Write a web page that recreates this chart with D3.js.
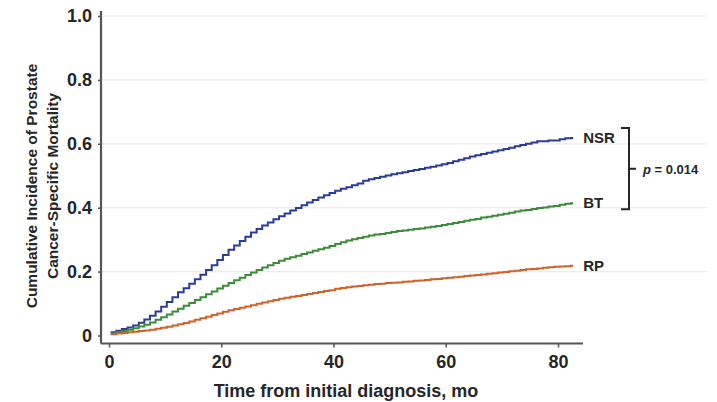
<!DOCTYPE html>
<html>
<head>
<meta charset="utf-8">
<script src="https://cdn.jsdelivr.net/npm/d3@7"></script>
<style>
  body { margin: 0; background: #fff; }
  svg { font-family: "Liberation Sans", Arial, sans-serif; }
</style>
</head>
<body>
<div id="chart"></div>
<script>
// cumulative incidence, one value per month (0..82)
var nsr = [0.010,0.015,0.020,0.025,0.031,0.040,0.050,0.062,0.075,0.090,
           0.105,0.120,0.135,0.148,0.162,0.176,0.190,0.205,0.220,0.236,
           0.252,0.268,0.282,0.296,0.309,0.322,0.333,0.344,0.354,0.364,
           0.373,0.382,0.391,0.399,0.408,0.416,0.424,0.432,0.439,0.446,
           0.453,0.459,0.464,0.470,0.476,0.484,0.489,0.493,0.497,0.501,
           0.505,0.508,0.511,0.515,0.518,0.521,0.525,0.528,0.532,0.536,
           0.540,0.545,0.550,0.555,0.560,0.564,0.568,0.572,0.576,0.580,
           0.584,0.588,0.592,0.596,0.600,0.604,0.608,0.608,0.610,0.610,
           0.614,0.617,0.618];
var bt  = [0.006,0.010,0.014,0.018,0.023,0.028,0.034,0.041,0.049,0.057,
           0.066,0.075,0.084,0.093,0.102,0.111,0.120,0.129,0.138,0.147,
           0.156,0.164,0.173,0.181,0.189,0.197,0.205,0.213,0.220,0.227,
           0.234,0.240,0.245,0.250,0.255,0.260,0.265,0.270,0.275,0.280,
           0.286,0.292,0.297,0.301,0.305,0.309,0.313,0.316,0.318,0.321,
           0.324,0.327,0.329,0.331,0.333,0.335,0.338,0.340,0.343,0.346,
           0.349,0.352,0.355,0.359,0.362,0.365,0.369,0.372,0.375,0.378,
           0.381,0.384,0.388,0.391,0.393,0.396,0.399,0.401,0.404,0.405,
           0.409,0.412,0.414];
var rp  = [0.004,0.006,0.008,0.010,0.012,0.014,0.016,0.018,0.021,0.024,
           0.027,0.031,0.035,0.039,0.044,0.049,0.054,0.059,0.064,0.069,
           0.074,0.079,0.083,0.087,0.091,0.095,0.099,0.103,0.107,0.111,
           0.115,0.118,0.121,0.124,0.127,0.130,0.133,0.136,0.139,0.142,
           0.146,0.149,0.151,0.153,0.155,0.157,0.159,0.161,0.162,0.164,
           0.165,0.166,0.168,0.169,0.171,0.172,0.174,0.176,0.177,0.179,
           0.181,0.182,0.184,0.186,0.188,0.189,0.191,0.193,0.195,0.197,
           0.199,0.201,0.203,0.205,0.207,0.208,0.210,0.212,0.214,0.215,
           0.216,0.217,0.218];
var months = d3.range(nsr.length);
var lastMonth = 82.7;

var seriesNames = ["NSR", "BT", "RP"];
var seriesColors = ["#2b3c98", "#3d8c3a", "#d0632b"];
var yTicks = [0, 0.2, 0.4, 0.6, 0.8, 1.0];
var yTickLabels = ["0", "0.2", "0.4", "0.6", "0.8", "1.0"];
var xTicks = [0, 20, 40, 60, 80];
var pLabel = "0.014";

var width = 717, height = 402;
var svg = d3.select("#chart").append("svg")
   .attr("width", width).attr("height", height);

var x = d3.scaleLinear().domain([0, 80]).range([109, 558]);
var y = d3.scaleLinear().domain([0, 1]).range([335.5, 16]);
var axisColor = "#555";
var textColor = "#262626";

// light grid lines
svg.append("g").selectAll("line").data(yTicks.slice(1)).enter()
   .append("line")
   .attr("x1", 101).attr("x2", 707)
   .attr("y1", function(d){ return y(d); }).attr("y2", function(d){ return y(d); })
   .attr("stroke", "#ececec").attr("stroke-width", 1.2);

// y axis
var yAxis = d3.axisLeft(y).tickValues(yTicks).tickSize(3).tickPadding(6)
   .tickFormat(function(d, i){ return yTickLabels[i]; });
var gy = svg.append("g").attr("transform", "translate(101,0)").call(yAxis);
gy.select(".domain").attr("d", "M0,11V343.5").attr("stroke", axisColor).attr("stroke-width", 2.2);
gy.selectAll(".tick line").attr("stroke", axisColor).attr("stroke-width", 1.5);
gy.selectAll(".tick text").attr("font-size", 18).attr("font-weight", "bold").attr("fill", textColor)
   .attr("font-family", "Liberation Sans, Arial, sans-serif");

// x axis
var xAxis = d3.axisBottom(x).tickValues(xTicks).tickSize(4).tickPadding(8);
var gx = svg.append("g").attr("transform", "translate(0,343.5)").call(xAxis);
gx.select(".domain").attr("d", "M101,0H583").attr("stroke", axisColor).attr("stroke-width", 2.2);
gx.selectAll(".tick line").attr("stroke", axisColor).attr("stroke-width", 1.5);
gx.selectAll(".tick text").attr("font-size", 18).attr("font-weight", "bold").attr("fill", textColor)
   .attr("font-family", "Liberation Sans, Arial, sans-serif");

// axis titles
svg.append("text")
   .attr("x", 346).attr("y", 397)
   .attr("text-anchor", "middle")
   .attr("font-size", 18).attr("font-weight", "bold").attr("fill", textColor)
   .text("Time from initial diagnosis, mo");

var yTitle = svg.append("text")
   .attr("transform", "translate(37,186) rotate(-90)")
   .attr("text-anchor", "middle")
   .attr("font-size", 15.5).attr("font-weight", "bold").attr("fill", textColor);
yTitle.append("tspan").attr("x", 0).attr("y", 0).text("Cumulative Incidence of Prostate");
yTitle.append("tspan").attr("x", 0).attr("y", 21).text("Cancer-Specific Mortality");

// step curves
var line = d3.line()
   .x(function(d){ return x(d[0]); })
   .y(function(d){ return y(d[1]); })
   .curve(d3.curveStepAfter);

var allSeries = [nsr, bt, rp];
allSeries.forEach(function(vals, i) {
   var pts = months.map(function(m, j){ return [m + 0.3, vals[j]]; });
   pts.push([lastMonth, vals[vals.length - 1]]);
   svg.append("path")
      .datum(pts)
      .attr("d", line)
      .attr("fill", "none")
      .attr("stroke", seriesColors[i])
      .attr("stroke-width", 2);

   svg.append("text")
      .attr("x", x(lastMonth) + 10)
      .attr("y", y(vals[vals.length - 1]) + 5)
      .attr("font-size", 15).attr("font-weight", "bold").attr("fill", textColor)
      .text(seriesNames[i]);
});

// bracket for NSR vs BT comparison
var bTop = y(nsr[nsr.length - 1]) - 10;
var bBot = y(bt[bt.length - 1]) + 6;
var bx = 629;
var bMid = (bTop + bBot) / 2;
svg.append("path")
   .attr("d", "M" + (bx - 8) + "," + bTop + "H" + bx + "V" + bBot + "H" + (bx - 8)
      + "M" + bx + "," + bMid + "H" + (bx + 7))
   .attr("fill", "none").attr("stroke", textColor).attr("stroke-width", 2);

var pText = svg.append("text")
   .attr("x", bx + 14).attr("y", bMid + 5)
   .attr("font-size", 13).attr("font-weight", "bold").attr("fill", textColor);
pText.append("tspan").attr("font-style", "italic").text("p");
pText.append("tspan").text(" = " + pLabel);
</script>
</body>
</html>
